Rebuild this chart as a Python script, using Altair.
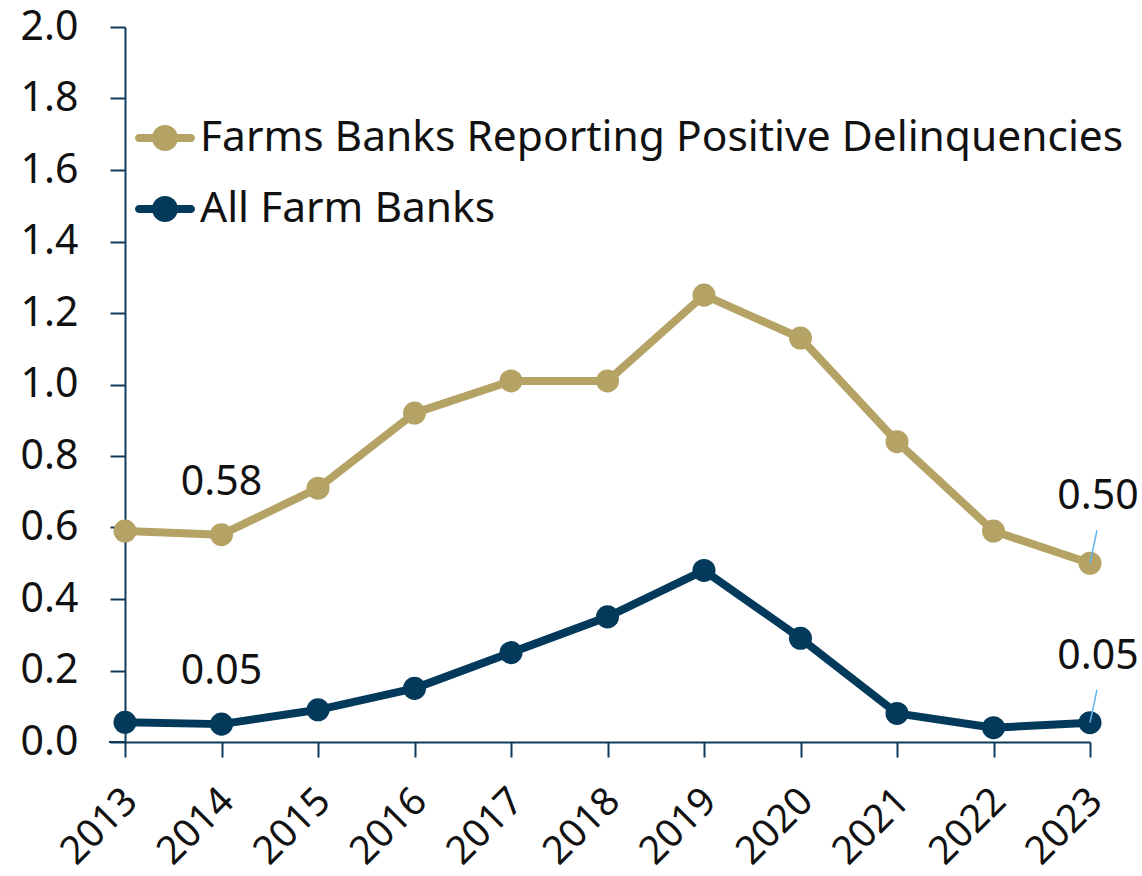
import altair as alt
import pandas as pd

years = list(range(2013, 2024))
positive = [0.59, 0.58, 0.71, 0.92, 1.01, 1.01, 1.25, 1.13, 0.84, 0.59, 0.50]
all_banks = [0.055, 0.05, 0.09, 0.15, 0.25, 0.35, 0.48, 0.29, 0.08, 0.04, 0.054]
series_names = ["Farms Banks Reporting Positive Delinquencies", "All Farm Banks"]
series_colors = ["#b5a265", "#033a5c"]
y_ticks = [0.0, 0.2, 0.4, 0.6, 0.8, 1.0, 1.2, 1.4, 1.6, 1.8, 2.0]

FONT = "Noto Sans"
FS = 41
FS_X = 39
FS_LEG = 42.5
AXIS_COLOR = "#0f3a5a"

rows = []
for y, v in zip(years, positive):
    rows.append({"year": y, "value": v, "series": series_names[0]})
for y, v in zip(years, all_banks):
    rows.append({"year": y, "value": v, "series": series_names[1]})
df = pd.DataFrame(rows)

legend_path = (
    "M-0.867,-0.133 L0.867,-0.133 A0.133,0.133 0 0 1 0.867,0.133 "
    "L-0.867,0.133 A0.133,0.133 0 0 1 -0.867,-0.133 Z "
    "M-0.433,0 A0.433,0.433 0 1 1 0.433,0 A0.433,0.433 0 1 1 -0.433,0 Z"
)

color = alt.Color(
    "series:N",
    scale=alt.Scale(domain=series_names, range=series_colors),
    sort=series_names,
    legend=alt.Legend(
        title=None,
        orient="none",
        legendX=10,
        legendY=81,
        symbolType=legend_path,
        symbolSize=3600,
        symbolStrokeWidth=0,
        labelFont=FONT,
        labelFontSize=FS_LEG,
        labelColor="#111111",
        labelOffset=5,
        rowPadding=19,
        padding=0,
        labelLimit=2000,
    ),
)

x = alt.X(
    "year:Q",
    scale=alt.Scale(domain=[2013, 2023], nice=False, zero=False),
    axis=alt.Axis(
        values=years,
        format="d",
        labelAngle=315,
        labelOverlap=False,
        labelFontSize=FS_X,
        title=None,
        grid=False,
        tickSize=15,
        labelPadding=24,
        labelOffset=-8,
    ),
)
y = alt.Y(
    "value:Q",
    scale=alt.Scale(domain=[0, 2.0], nice=False),
    axis=alt.Axis(
        values=y_ticks,
        format=".1f",
        title=None,
        grid=False,
        tickSize=15,
        labelPadding=32,
    ),
)

base = alt.Chart(df)

lines = base.mark_line(strokeWidth=8, strokeCap="round", strokeJoin="round").encode(
    x=x, y=y, color=color, order="year:Q"
)
points = base.mark_point(filled=True, size=530, opacity=1).encode(
    x=x, y=y, color=color
)

lab14 = base.transform_filter(alt.datum.year == 2014).mark_text(
    font=FONT, fontSize=FS, color="#111111", dy=-52, align="center", baseline="middle"
).encode(x=x, y=y, text=alt.Text("value:Q", format=".2f"))

lab23 = base.transform_filter(alt.datum.year == 2023).mark_text(
    font=FONT, fontSize=FS, color="#111111", dx=8, dy=-66, align="center", baseline="middle"
).encode(x=x, y=y, text=alt.Text("value:Q", format=".2f"))

leaders = base.transform_filter(alt.datum.year == 2023).mark_rule(
    color="#62b5ef", strokeWidth=1.5, x2Offset=7, y2Offset=-33
).encode(x=x, y=y, x2="year:Q", y2="value:Q")

axis_ext = alt.Chart(pd.DataFrame({"v": [0]})).mark_rule(
    color=AXIS_COLOR, strokeWidth=2
).encode(x=alt.value(-16), x2=alt.value(0), y=alt.value(715))

chart = (
    alt.layer(axis_ext, lines, points, leaders, lab14, lab23)
    .properties(
        width=965,
        height=715,
        autosize=alt.AutoSizeParams(type="none"),
        padding={"left": 125, "top": 27, "right": 52, "bottom": 134},
    )
    .configure_view(stroke=None)
    .configure_axis(
        domainColor=AXIS_COLOR,
        domainWidth=2,
        tickColor=AXIS_COLOR,
        tickWidth=2,
        labelFont=FONT,
        labelFontSize=FS,
        labelColor="#111111",
    )
)

chart.save("out.html", embed_options={"renderer": "svg", "actions": False})
